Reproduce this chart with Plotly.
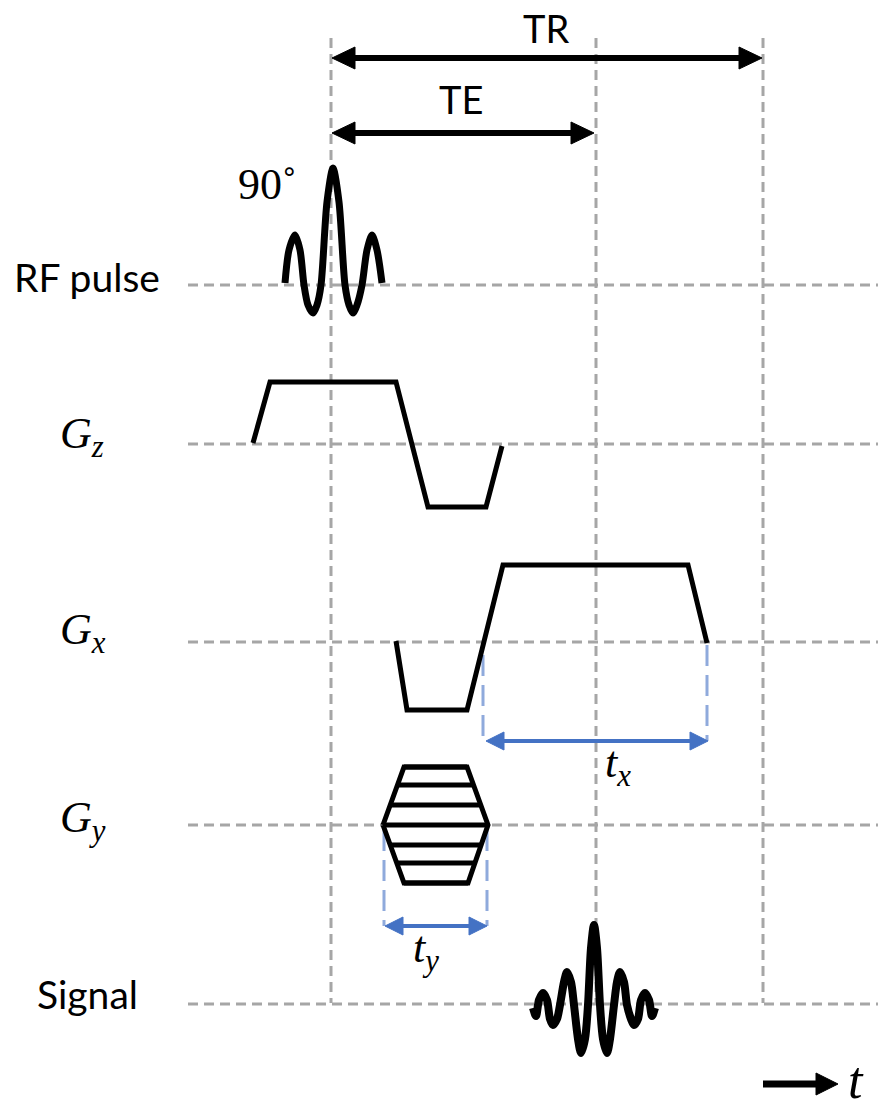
import plotly.graph_objects as go

W, H = 881, 1108

# ---------------- data (pixel units) ----------------
GRID_X = [331, 596, 763]            # vertical dashed timing lines
GRID_Y_SPAN = [38, 1003]
ROW_Y = [285, 444, 642, 825, 1004]   # baselines: RF, Gz, Gx, Gy, Signal
ROW_X_SPAN = [188, 878]
ROW_LABELS = ["RF pulse", "<i>G</i><sub><i>z</i></sub>", "<i>G</i><sub><i>x</i></sub>",
              "<i>G</i><sub><i>y</i></sub>", "Signal"]

RF_X = [285, 289, 295, 300, 304, 308, 313, 317, 321, 327, 333, 339, 345, 349, 353, 357, 362, 367, 372, 377, 382]
RF_Y = [283, 250, 235, 250, 285, 305, 313, 305, 285, 202, 168, 202, 285, 305, 313, 305, 285, 250, 235, 250, 283]

GZ_X = [253, 270, 396, 428, 486, 502]
GZ_Y = [443, 382, 382, 507, 507, 446]

GX_X = [396, 407, 467, 503, 688, 707]
GX_Y = [641, 710, 710, 565, 565, 643]

GY_HEX_X = [383, 404, 467, 488, 468, 404, 383]
GY_HEX_Y = [825, 767, 767, 825, 883, 883, 825]
GY_LEVEL_Y = [767, 785, 805, 825, 845, 863, 883]
GY_LEVEL_X0 = [404, 398, 391, 383, 391, 397, 404]
GY_LEVEL_X1 = [467, 473, 479, 488, 480, 474, 468]

SIG_X = [533, 536, 539, 543, 547, 550, 553, 557, 560, 564, 567, 571, 574, 578, 581, 585,
         588, 591, 594, 597, 600, 603, 607, 610, 614, 617, 620, 624, 627, 631, 634, 638,
         641, 645, 649, 652, 655]
SIG_Y = [1008, 1016, 1000, 993, 1000, 1019, 1025, 1019, 1005, 982, 972, 982, 1005, 1039, 1053, 1039,
         1005, 948, 925, 948, 1005, 1039, 1053, 1039, 1005, 982, 972, 982, 1005, 1019, 1025, 1019,
         1000, 993, 1000, 1016, 1008]

# timing arrows: (x_start, x_end, y)
TR_ARROW = (332, 762, 58)
TE_ARROW = (332, 594, 133)
TX_ARROW = (486, 708, 741)
TY_ARROW = (385, 487, 926)
TX_GUIDES_X = [483, 707]
TX_GUIDES_Y = [(655, 741), (645, 741)]
TY_GUIDES_X = [384, 487]
TY_GUIDES_Y = [(830, 926), (830, 926)]
T_AXIS_ARROW = (763, 838, 1084)

BLACK = "#000000"
GRID = "#A6A6A6"
BLUE = "#4472C4"
LIGHT_BLUE = "#8FAADC"

fig = go.Figure()


def line(xs, ys, color, width, dash=None, shape="linear", smoothing=1.0):
    fig.add_trace(go.Scatter(x=xs, y=ys, mode="lines", hoverinfo="skip", showlegend=False,
                             line=dict(color=color, width=width, dash=dash, shape=shape,
                                       smoothing=smoothing)))


def tri(xs, ys, color):
    fig.add_trace(go.Scatter(x=xs, y=ys, mode="lines", fill="toself", fillcolor=color,
                             hoverinfo="skip", showlegend=False,
                             line=dict(color=color, width=1)))


def double_arrow(a, color, width, head_len, head_half):
    x0, x1, y = a
    line([x0 + head_len - 2, x1 - head_len + 2], [y, y], color, width)
    tri([x0, x0 + head_len, x0 + head_len, x0], [y, y - head_half, y + head_half, y], color)
    tri([x1, x1 - head_len, x1 - head_len, x1], [y, y - head_half, y + head_half, y], color)


# grid
for gx in GRID_X:
    line([gx, gx], GRID_Y_SPAN, GRID, 3, dash="10px,6px")
for gy in ROW_Y:
    line(ROW_X_SPAN, [gy, gy], GRID, 3, dash="10px,6px")

# blue guides
for gx, (ya, yb) in zip(TX_GUIDES_X, TX_GUIDES_Y):
    line([gx, gx], [ya, yb], LIGHT_BLUE, 3, dash="21px,9px")
for gx, (ya, yb) in zip(TY_GUIDES_X, TY_GUIDES_Y):
    line([gx, gx], [ya, yb], LIGHT_BLUE, 3, dash="21px,9px")

# waveforms
line(RF_X, RF_Y, BLACK, 7, shape="spline", smoothing=0.8)
line(GZ_X, GZ_Y, BLACK, 5)
line(GX_X, GX_Y, BLACK, 5)
line(GY_HEX_X, GY_HEX_Y, BLACK, 5)
for yy, xa, xb in zip(GY_LEVEL_Y, GY_LEVEL_X0, GY_LEVEL_X1):
    line([xa, xb], [yy, yy], BLACK, 5)
line(SIG_X, SIG_Y, BLACK, 8, shape="spline", smoothing=0.8)

# arrows
double_arrow(TR_ARROW, BLACK, 6, 23, 11)
double_arrow(TE_ARROW, BLACK, 6, 23, 11)
double_arrow(TX_ARROW, BLUE, 4, 18, 9)
double_arrow(TY_ARROW, BLUE, 4, 18, 9)
xa, xb, ya = T_AXIS_ARROW
line([xa, xb - 18], [ya, ya], BLACK, 7)
tri([xb, xb - 22, xb - 22, xb], [ya, ya - 11, ya + 11, ya], BLACK)

SANS = "Lato"
SERIF = "Liberation Serif"


def text(x, y, s, font, size, xanchor="center"):
    fig.add_annotation(x=x, y=y, xref="x", yref="y", text=s, showarrow=False,
                       xanchor=xanchor, yanchor="middle",
                       font=dict(family=font, size=size, color=BLACK))


text(87, 277, ROW_LABELS[0], SANS, 39)
text(58, 436, ROW_LABELS[1], SERIF, 44, "left")
text(58, 632, ROW_LABELS[2], SERIF, 44, "left")
text(58, 820, ROW_LABELS[3], SERIF, 44, "left")
text(87, 994, ROW_LABELS[4], SANS, 39)
text(546, 28, "TR", SANS, 38)
text(461, 99, "TE", SANS, 38)
text(236, 184, "90˚", SERIF, 44, "left")
text(603, 765, "<i>t</i><sub><i>x</i></sub>", SERIF, 44, "left")
text(411, 950, "<i>t</i><sub><i>y</i></sub>", SERIF, 44, "left")
text(846, 1080, "<i>t</i>", SERIF, 52, "left")

fig.update_layout(width=W, height=H, margin=dict(l=0, r=0, t=0, b=0),
                  paper_bgcolor="white", plot_bgcolor="white",
                  xaxis=dict(range=[0, W], visible=False, fixedrange=True),
                  yaxis=dict(range=[H, 0], visible=False, fixedrange=True))

fig.write_html("out.html")
